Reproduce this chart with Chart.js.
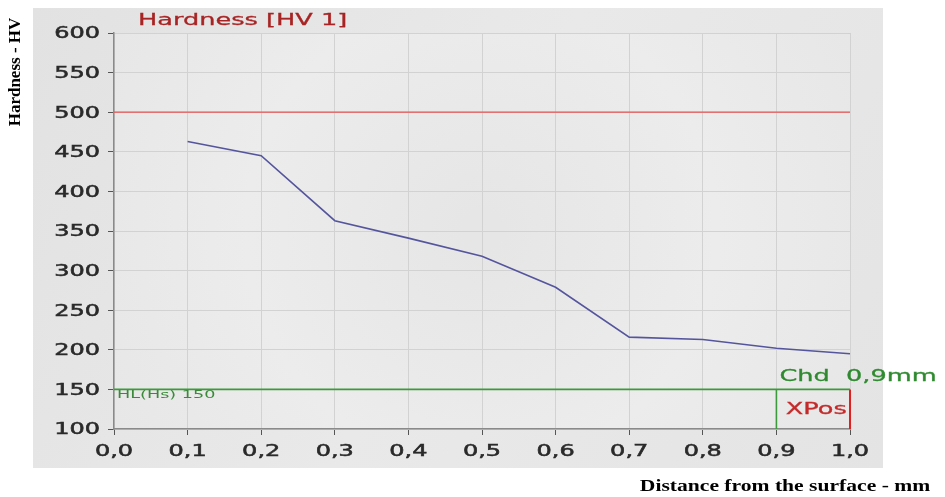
<!DOCTYPE html>
<html>
<head>
<meta charset="utf-8">
<script src="https://cdn.jsdelivr.net/npm/chart.js@4/dist/chart.umd.min.js"></script>
<style>
  html, body { margin: 0; padding: 0; background: #fff; }
  #wrap { width: 945px; height: 497px; }
</style>
</head>
<body>
<div id="wrap"><canvas id="chart" width="945" height="497"></canvas></div>
<script>
// data
const distances = [0.1, 0.2, 0.3, 0.4, 0.5, 0.6, 0.7, 0.8, 0.9, 1.0];
const hardness = [463, 445, 363, 341, 318, 279, 216, 213, 202, 195];

const limitHV = 500;   // red limit line
const hlHV = 150;      // HL(Hs) line
const chdDepth = 0.9;  // case hardening depth
const xPos = 1.0;      // red cursor

const xMin = 0, xMax = 1, xStep = 0.1;
const yMin = 100, yMax = 600, yStep = 50;

const chartTitle = 'Hardness [HV 1]';
const yTitle = 'Hardness - HV';
const xTitle = 'Distance from the surface - mm';
const hlLabel = 'HL(Hs) 150';
const chdLabel = 'Chd  0,9mm';
const xPosLabel = 'XPos';

const SX = 1.6; // the source picture is stretched sideways

function fmt(v) {
  return v.toFixed(1).replace('.', ',');
}

// text drawn wide, like the picture
function wideText(ctx, txt, x, y, font, color, align, sx, heavy) {
  ctx.save();
  ctx.font = font;
  ctx.fillStyle = color;
  ctx.strokeStyle = color;
  ctx.textBaseline = 'middle';
  const w = ctx.measureText(txt).width * sx;
  let left = x;
  if (align === 'center') left = x - w / 2;
  if (align === 'right') left = x - w;
  ctx.translate(left, y);
  ctx.scale(sx, 1);
  ctx.textAlign = 'left';
  ctx.fillText(txt, 0, 0);
  if (heavy) {
    ctx.lineWidth = heavy;
    ctx.strokeText(txt, 0, 0);
  }
  ctx.restore();
}

const panelPlugin = {
  id: 'panel',
  beforeDraw(chart) {
    const ctx = chart.ctx;
    const a = chart.chartArea;
    ctx.save();
    ctx.fillStyle = '#ffffff';
    ctx.fillRect(0, 0, chart.width, chart.height);
    const g = ctx.createLinearGradient(33, 8, 883, 468);
    g.addColorStop(0, '#e2e2e2');
    g.addColorStop(0.5, '#e9e9e9');
    g.addColorStop(1, '#e4e4e4');
    ctx.fillStyle = g;
    ctx.fillRect(33, 8, 850, 460);
    const r = ctx.createRadialGradient((a.left + a.right) / 2, (a.top + a.bottom) / 2, 20,
      (a.left + a.right) / 2, (a.top + a.bottom) / 2, 450);
    r.addColorStop(0, '#e6e6e6');
    r.addColorStop(0.5, '#ececec');
    r.addColorStop(1, '#e6e6e6');
    ctx.fillStyle = r;
    ctx.fillRect(a.left, a.top, a.right - a.left, a.bottom - a.top);
    ctx.restore();
  },
  afterDraw(chart) {
    const ctx = chart.ctx;
    const xs = chart.scales.x, ys = chart.scales.y;
    const a = chart.chartArea;

    // tick labels, through the scales
    xs.ticks.forEach((t, i) => {
      wideText(ctx, fmt(t.value), xs.getPixelForTick(i), a.bottom + 23,
        '15px "DejaVu Sans"', '#2a2a2a', 'center', SX, 0.5);
    });
    ys.ticks.forEach((t, i) => {
      wideText(ctx, String(t.value), a.left - 14, ys.getPixelForTick(i) + 1.5,
        '15px "DejaVu Sans"', '#2a2a2a', 'right', SX, 0.5);
    });

    // titles
    wideText(ctx, chartTitle, 138, 21, '16px "DejaVu Sans"', '#a82424', 'left', SX, 0.3);
    wideText(ctx, xTitle, 785, 487, 'bold 17px "Liberation Serif"', '#000', 'center', 1.27);
    ctx.save();
    ctx.translate(16, 72);
    ctx.rotate(-Math.PI / 2);
    ctx.font = 'bold 17px "Liberation Serif"';
    ctx.fillStyle = '#000';
    ctx.textAlign = 'center';
    ctx.textBaseline = 'middle';
    ctx.fillText(yTitle, 0, 0);
    ctx.restore();

    // marker labels
    const yHL = ys.getPixelForValue(hlHV);
    wideText(ctx, hlLabel, a.left + 3, yHL + 6, '11px "DejaVu Sans"', '#3a8a3a', 'left', SX);
    wideText(ctx, chdLabel, xs.getPixelForValue(chdDepth) + 3, yHL - 13,
      '16px "DejaVu Sans"', '#2f8a2f', 'left', SX, 0.3);
    const xMid = (xs.getPixelForValue(chdDepth) + xs.getPixelForValue(xPos)) / 2;
    wideText(ctx, xPosLabel, xMid + 3, (yHL + ys.getPixelForValue(yMin)) / 2 + 1,
      '16px "DejaVu Sans"', '#c42a2a', 'center', SX, 0.3);
  }
};

const curve = distances.map((d, i) => ({ x: d, y: hardness[i] }));

new Chart(document.getElementById('chart'), {
  type: 'line',
  data: {
    datasets: [
      { data: curve, borderColor: '#55559e', borderWidth: 1.6, pointRadius: 0, tension: 0 },
      { data: [{ x: xMin, y: limitHV }, { x: xMax, y: limitHV }], borderColor: '#e85050', borderWidth: 1.2, pointRadius: 0 },
      { data: [{ x: xMin, y: hlHV }, { x: xMax, y: hlHV }], borderColor: '#3c9a3c', borderWidth: 1.6, pointRadius: 0 },
      { data: [{ x: chdDepth, y: yMin }, { x: chdDepth, y: hlHV }], borderColor: '#3c9a3c', borderWidth: 1.6, pointRadius: 0 },
      { data: [{ x: xPos, y: yMin }, { x: xPos, y: hlHV }], borderColor: '#e02020', borderWidth: 2, pointRadius: 0 }
    ]
  },
  options: {
    responsive: false,
    animation: false,
    clip: false,
    layout: { padding: { left: 0, right: 95, top: 33, bottom: 0 } },
    plugins: { legend: { display: false }, tooltip: { enabled: false } },
    scales: {
      x: {
        type: 'linear', min: xMin, max: xMax,
        ticks: { stepSize: xStep, color: 'rgba(0,0,0,0)', font: { size: 15 } },
        grid: { color: '#d2d2d2', tickColor: '#555', tickLength: 6, lineWidth: 1 },
        border: { color: '#8a8a8a', width: 1.5 },
        afterFit(s) { s.height = 68; }
      },
      y: {
        min: yMin, max: yMax,
        ticks: { stepSize: yStep, color: 'rgba(0,0,0,0)', font: { size: 15 } },
        grid: { color: '#d2d2d2', tickColor: '#555', tickLength: 6, lineWidth: 1 },
        border: { color: '#8a8a8a', width: 1.5 },
        afterFit(s) { s.width = 114; }
      }
    }
  },
  plugins: [panelPlugin]
});
</script>
</body>
</html>
